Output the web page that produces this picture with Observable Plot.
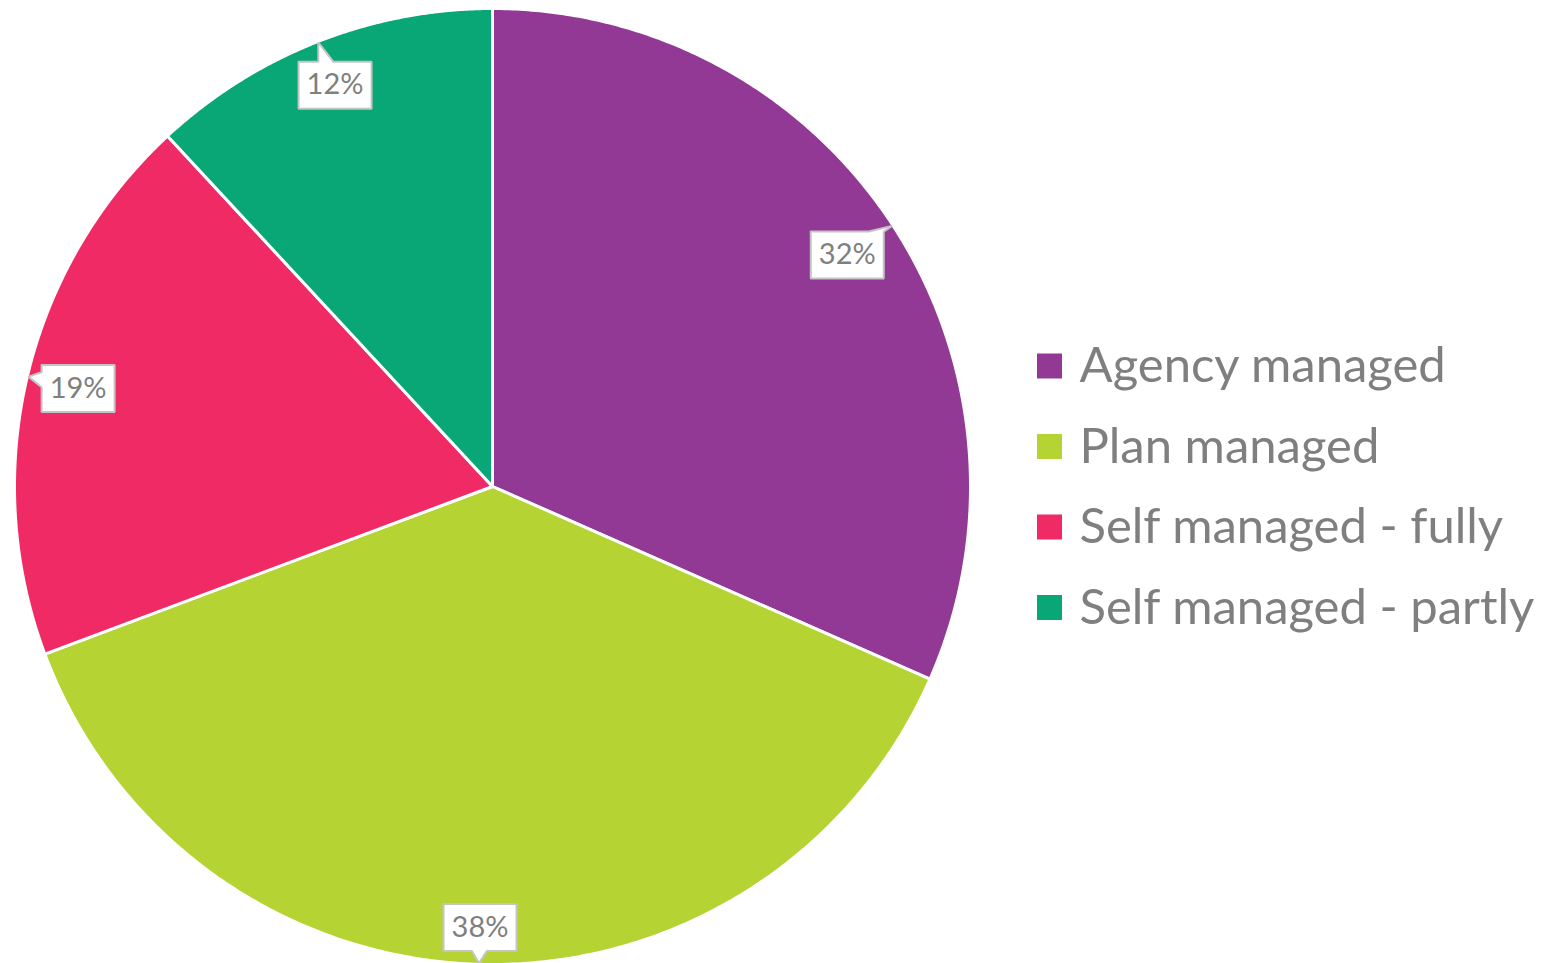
<!DOCTYPE html>
<html>
<head>
<meta charset="utf-8">
<script src="https://cdn.jsdelivr.net/npm/d3@7"></script>
<script src="https://cdn.jsdelivr.net/npm/@observablehq/plot@0.6"></script>
<style>
  html, body { margin: 0; padding: 0; background: #fff; }
  #chart svg { display: block; }
</style>
</head>
<body>
<div id="chart"></div>
<script>
// ---- data ----
const categories = ["Agency managed", "Plan managed", "Self managed - fully", "Self managed - partly"];
const values = [31.6, 37.7, 18.8, 11.9];
const labels = ["32%", "38%", "19%", "12%"];
const colors = ["#923996", "#b6d334", "#f02a65", "#0aa776"];

// ---- layout ----
const W = 1545, H = 963;
const cx = 492, cy = 486, R = 478;
const boxW = 73, boxH = 47;
const gray = "#7f7f7f";

const arcs = d3.pie().sort(null).value(d => d)(values);
const pt = (a, r) => [cx + r * Math.sin(a), cy - r * Math.cos(a)];

// slice polygons
const slicePts = [];
arcs.forEach((a, i) => {
  const cat = categories[i];
  slicePts.push({cat, x: cx, y: cy});
  const n = 240;
  for (let k = 0; k <= n; k++) {
    const ang = a.startAngle + (a.endAngle - a.startAngle) * k / n;
    const [x, y] = pt(ang, R);
    slicePts.push({cat, x, y});
  }
  slicePts.push({cat, x: cx, y: cy});
});

// callout positions
const callouts = arcs.map((a, i) => {
  const mid = (a.startAngle + a.endAngle) / 2;
  const maxR = R - 11;
  let lo = 0, hi = R;
  for (let it = 0; it < 40; it++) {
    const d = (lo + hi) / 2;
    const [bx, by] = pt(mid, d);
    let m = 0;
    for (const sx of [-1, 1]) for (const sy of [-1, 1]) {
      m = Math.max(m, Math.hypot(bx + sx * boxW / 2 - cx, by + sy * boxH / 2 - cy));
    }
    if (m > maxR) hi = d; else lo = d;
  }
  const [bx, by] = pt(mid, lo);
  const [tx, ty] = pt(mid, R - 1);
  return {label: labels[i], bx, by, tx, ty};
});

// callout polygon: rectangle with a pointer
const calloutPts = [];
callouts.forEach(c => {
  const hw = boxW / 2, hh = boxH / 2;
  const L = c.bx - hw, Rr = c.bx + hw, T = c.by - hh, B = c.by + hh;
  const dx = c.tx - c.bx, dy = c.ty - c.by;
  const tX = Math.abs(dx) > 1e-9 ? hw / Math.abs(dx) : Infinity;
  const tY = Math.abs(dy) > 1e-9 ? hh / Math.abs(dy) : Infinity;
  const pw = 15;
  let poly;
  if (tY < tX) {
    let px = c.bx + dx * tY;
    let a0 = Math.max(L, Math.min(Rr - pw, px - pw / 2)), a1 = a0 + pw;
    if (dy < 0) {
      poly = [[L, T], [a0, T], [c.tx, c.ty], [a1, T], [Rr, T], [Rr, B], [L, B], [L, T]];
    } else {
      poly = [[L, T], [Rr, T], [Rr, B], [a1, B], [c.tx, c.ty], [a0, B], [L, B], [L, T]];
    }
  } else {
    let py = c.by + dy * tX;
    let a0 = Math.max(T, Math.min(B - pw, py - pw / 2)), a1 = a0 + pw;
    if (dx < 0) {
      poly = [[L, T], [Rr, T], [Rr, B], [L, B], [L, a1], [c.tx, c.ty], [L, a0], [L, T]];
    } else {
      poly = [[L, T], [Rr, T], [Rr, a0], [c.tx, c.ty], [Rr, a1], [Rr, B], [L, B], [L, T]];
    }
  }
  poly.forEach(([x, y]) => calloutPts.push({label: c.label, x, y}));
});

// legend
const legX = 1037, legSq = 25, legY0 = 366, legStep = 80.5;
const legend = categories.map((cat, i) => ({cat, y: legY0 + i * legStep}));

const chart = Plot.plot({
  width: W,
  height: H,
  margin: 0,
  x: {domain: [0, W], range: [0, W], axis: null},
  y: {domain: [0, H], range: [0, H], axis: null},
  color: {domain: categories, range: colors},
  style: {fontFamily: "Lato, 'Open Sans', sans-serif", background: "#fff"},
  marks: [
    Plot.line(slicePts, {x: "x", y: "y", z: "cat", fill: "cat", stroke: "#ffffff", strokeWidth: 3, strokeLinejoin: "round", curve: "linear"}),
    Plot.line(calloutPts, {x: "x", y: "y", z: "label", fill: "#ffffff", stroke: "#c4c4c4", strokeWidth: 2, strokeLinejoin: "miter", curve: "linear"}),
    Plot.text(callouts, {x: "bx", y: "by", text: "label", fill: gray, fontSize: 29, textAnchor: "middle", lineAnchor: "middle"}),
    Plot.rect(legend, {x1: legX, x2: legX + legSq, y1: d => d.y - legSq / 2, y2: d => d.y + legSq / 2, fill: "cat"}),
    Plot.text(legend, {x: 1079, y: "y", text: "cat", fill: gray, fontSize: 49, textAnchor: "start", lineAnchor: "middle"})
  ]
});
document.getElementById("chart").appendChild(chart);
</script>
</body>
</html>
